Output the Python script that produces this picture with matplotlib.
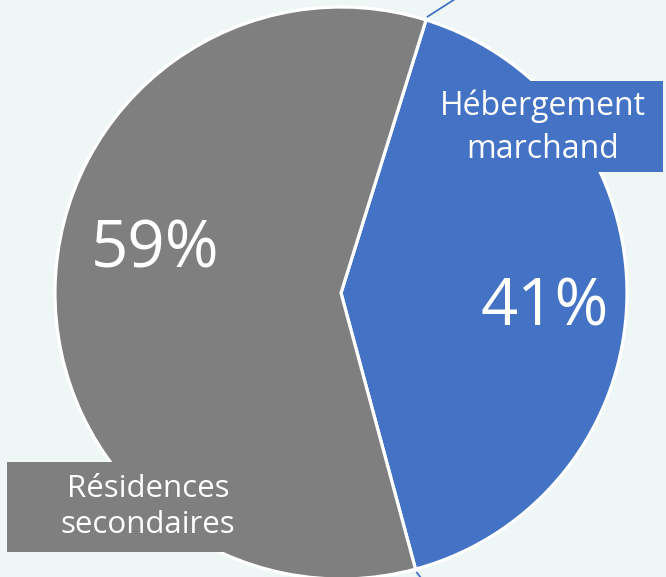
import numpy as np
import matplotlib.pyplot as plt
from matplotlib.patches import Rectangle

# data
labels = ["Hébergement\nmarchand", "Résidences\nsecondaires"]
shares = [41, 59]
colors = ["#4472C4", "#7F7F7F"]
bg = "#EEF7F6"

W, H = 666, 577
cx, cy = 341, 293      # pie centre in pixels (from top-left)
R = 286

fig = plt.figure(figsize=(W / 100, H / 100), dpi=100, facecolor=bg)
ax = fig.add_axes([0, 0, 1, 1])
ax.set_facecolor(bg)

start = 72.7
wedges, _ = ax.pie(shares, colors=colors, radius=R, startangle=start,
                   counterclock=False,
                   wedgeprops=dict(edgecolor="white", linewidth=2.3))

# pie() resets the limits, so set them afterwards
ax.set_xlim(-cx, W - cx)
ax.set_ylim(-(H - cy), cy)
ax.set_aspect("equal")
ax.axis("off")

# leader lines leaving the frame at the two slice boundaries
t_top = np.deg2rad(start)
t_bot = np.deg2rad(start - 360 * shares[0] / sum(shares))
for t, d in [(t_top, (28, 18)), (t_bot, (8, -10))]:
    x0, y0 = (R + 3) * np.cos(t), (R + 3) * np.sin(t)
    ax.plot([x0, x0 + d[0]], [y0, y0 + d[1]], color=colors[0], lw=1.3,
            solid_capstyle="butt")

font = "Open Sans"

# percentage labels
ax.text(545 - cx, cy - 308, f"{shares[0]}%", color="white", fontsize=47,
        family=font, ha="center", va="center")
ax.text(155 - cx, cy - 250, f"{shares[1]}%", color="white", fontsize=47,
        family=font, ha="center", va="center")

# category label boxes
ax.add_patch(Rectangle((423 - cx, cy - 172), 240, 91, facecolor=colors[0],
                       edgecolor="none", zorder=3))
ax.text(543 - cx, cy - 128, labels[0], color="white", fontsize=23,
        family=font, ha="center", va="center", linespacing=1.42, zorder=4)

ax.add_patch(Rectangle((7 - cx, cy - 552), 282, 90, facecolor=colors[1],
                       edgecolor="none", zorder=3))
ax.text(148 - cx, cy - 507, labels[1], color="white", fontsize=22.5,
        family=font, ha="center", va="center", linespacing=1.25, zorder=4)

fig.savefig("out.png", dpi=100, facecolor=bg)
